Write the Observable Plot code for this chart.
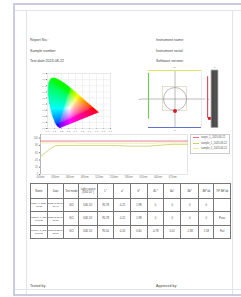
<!DOCTYPE html>
<html><head><meta charset="utf-8">
<script src="https://cdn.jsdelivr.net/npm/d3@7"></script>
<script src="https://cdn.jsdelivr.net/npm/@observablehq/plot@0.6"></script>
<style>
html,body{margin:0;padding:0;background:#fff;width:241px;height:297px;overflow:hidden;font-family:"Liberation Sans",Arial,sans-serif;}
#page{position:relative;width:241px;height:297px;}
.abs{position:absolute;}
.frameTop{left:14px;top:3px;width:227px;height:2px;background:#c9cde0;}
.frameLeft{left:13px;top:3px;width:2px;height:293px;background:#c9cde0;}
.frameBottom{left:13px;top:294px;width:228px;height:2px;background:#c9cde0;}
.lineInL{left:26px;top:10px;width:1px;height:284px;background:#e2e4ea;}
.lineInR{left:232px;top:10px;width:1px;height:284px;background:#e2e4ea;}
.lineInT{left:15px;top:10px;width:226px;height:1px;background:#e2e4ea;}
.lineInB{left:15px;top:289px;width:226px;height:1px;background:#e2e4ea;}
.info{font-size:3.6px;color:#444;white-space:nowrap;line-height:4px;}
table.t{position:absolute;left:30px;top:183px;width:200px;border-collapse:collapse;table-layout:fixed;font-size:2.7px;color:#444;}
table.t td{border:0.6px solid #777;text-align:center;padding:0;line-height:3px;overflow:hidden;word-break:break-all;}
table.t tr.h td{height:14px;}
table.t tr.d td{height:12.4px;}
table.t tr.d td.sm{font-size:2.3px;line-height:2.8px;}
.legend{left:190px;top:134px;width:38px;height:18px;border:0.6px solid #ccc;font-size:2.6px;color:#555;background:#fff;}
.legend div{display:flex;align-items:center;height:5.5px;padding-left:2px;white-space:nowrap;}
.legend span.sw{display:inline-block;width:6px;height:0.8px;margin-right:2px;}
svg{overflow:visible;}
</style>
</head><body><div id="page">
<div class="abs frameTop"></div><div class="abs frameLeft"></div><div class="abs frameBottom"></div>
<div class="abs lineInL"></div><div class="abs lineInR"></div><div class="abs lineInT"></div><div class="abs lineInB"></div>
</div>
<script>
// ---------- data ----------
const infoLeft = ["Report No.:", "Sample number:", "Test date:2023-08-22"];
const infoRight = ["Instrument name:", "Instrument serial:", "Software version:"];
const footer = ["Tested by:", "Approved by:"];

// CIE 1931 spectral locus (x, y)
const locusX = [0.1741,0.1714,0.1644,0.1440,0.1241,0.1096,0.0913,0.0687,0.0454,0.0235,0.0082,0.0039,0.0139,0.0389,0.0743,0.1142,0.1547,0.2296,0.3016,0.3731,0.4441,0.5125,0.5752,0.6270,0.6915,0.7190,0.7347];
const locusY = [0.0050,0.0051,0.0109,0.0297,0.0578,0.0868,0.1327,0.2007,0.2950,0.4127,0.5384,0.6548,0.7502,0.8120,0.8338,0.8262,0.8059,0.7543,0.6923,0.6245,0.5547,0.4866,0.4242,0.3725,0.3083,0.2809,0.2653];
const cieTicks = [0,0.1,0.2,0.3,0.4,0.5,0.6,0.7,0.8,0.9];

// target plot
const edgeNames = ["b+", "b-", "-a", "+a"];
const targetBox = [{x1:-0.45, x2:0.45, y1:-0.42, y2:0.42}];
const sampleA = [0];
const sampleB = [-0.42];
const lightBar = [{x1:1.38, x2:1.64, y1:-1.02, y2:1.0}];
const lRange = [0.78, -0.68];
const lMark = -0.68;

// spectral curves
const wavelengths = [400,410,420,430,440,450,460,470,480,490,500,510,520,530,540,550,560,570,580,590,600,610,620,630,640,650,660,670,680,690,700];
const target1 = [92,92,92,92,92,92,92,92,92,92,92,92,92,92,92,92,92,92,92,92,92,92,92,92,92,92,92,92,92,92,92];
const sample1 = [49,60,71,79,80,80,80,80,80,80,80,80,80,80,80,80,79,79,78,78,78,78,78,79,80,81,82,83,83,83,83];
const sample2 = [87,87,87,87,87,87,87,87,86,86,86,86,86,86,86,86,86,86,86,86,86,86,86,86,87,87,87,87,87,87,87];
const seriesNames = ["target_1_2023-08-22", "sample_1_2023-08-22", "sample_2_2023-08-22"];
const seriesColors = ["#e27383", "#cdd06a", "#efe9a8"];
const wlTicks = [400,430,460,490,520,550,580,610,640,670];
const yTicks = [0,20,40,60,80,100];

// table
const headers = ["Name","Date","Test mode","Light source(D65 10°)","L*","a*","b*","ΔL*","Δa*","Δb*","ΔE*ab","T/F ΔE*ab"];
const rowNames = ["target_1_2023-08-22","sample_1_2023-08-22","sample_2_2023-08-22"];
const rowDates = ["2023-08-22 11:20:48","2023-08-22 11:21:36","2023-08-22 11:22:15"];
const rowMode = ["SCI","SCI","SCI"];
const rowLight = ["D65 10°","D65 10°","D65 10°"];
const rowL = ["95.78","95.78","95.00"];
const rowA = ["-0.21","-0.21","-0.20"];
const rowB = ["1.98","1.98","0.60"];
const rowDL = ["0","0","-0.78"];
const rowDa = ["0","0","0.01"];
const rowDb = ["0","0","-1.38"];
const rowDE = ["0","0","1.58"];
const rowTF = ["","Pass","Fail"];

// ---------- layout ----------
const page = document.getElementById("page");
function place(el, left, top){ el.style.position="absolute"; el.style.left=left+"px"; el.style.top=top+"px"; page.appendChild(el); }
function txt(s, left, top, cls){ const d=document.createElement("div"); d.className=cls; d.textContent=s; place(d,left,top); }
infoLeft.forEach((s,i)=>txt(s,30,38+i*10.5,"info"));
infoRight.forEach((s,i)=>txt(s,156,38+i*10.5,"info"));
txt(footer[0],30,284,"info"); txt(footer[1],156,284,"info");

// ---------- CIE diagram ----------
const locus = locusX.map((x,i)=>[x, locusY[i]]);
function xyColor(x,y){
  if (!d3.polygonContains(locus,[x,y])) return null;
  const X=x/y, Y=1, Z=(1-x-y)/y;
  let r= 3.2406*X-1.5372*Y-0.4986*Z, g=-0.9689*X+1.8758*Y+0.0415*Z, b=0.0557*X-0.2040*Y+1.0570*Z;
  r=Math.max(r,0); g=Math.max(g,0); b=Math.max(b,0);
  const m=Math.max(r,g,b);
  const gam=v=>{v/=m; return Math.round(255*(v<=0.0031308?12.92*v:1.055*Math.pow(v,1/2.4)-0.055));};
  return `rgb(${gam(r)},${gam(g)},${gam(b)})`;
}
const cie = Plot.plot({
  width:72, height:64, marginLeft:7, marginRight:2, marginTop:3, marginBottom:6,
  style:{fontSize:"2.4px", fontFamily:"Liberation Sans", color:"#777", background:"transparent"},
  x:{domain:[0,0.9], ticks:cieTicks, tickSize:1, tickPadding:1, tickFormat:d3.format(".1f"), label:null},
  y:{domain:[0,0.9], ticks:cieTicks, tickSize:1, tickPadding:1, tickFormat:d3.format(".1f"), label:null},
  color:{type:"identity"},
  marks:[
    Plot.gridX(cieTicks,{stroke:"#ddd", strokeOpacity:1, strokeWidth:0.4}),
    Plot.gridY(cieTicks,{stroke:"#ddd", strokeOpacity:1, strokeWidth:0.4}),
    Plot.raster({x1:0,x2:0.9,y1:0,y2:0.9,width:160,height:160,fill:(x,y)=>xyColor(x,y)}),
    Plot.frame({stroke:"#ddd", strokeWidth:0.4})
  ]
});
place(cie,40,70);

// ---------- target plot ----------
const tgt = Plot.plot({
  width:90, height:68, marginLeft:10, marginRight:0, marginTop:6, marginBottom:5,
  style:{fontSize:"2.4px", fontFamily:"Liberation Sans", color:"#777", background:"transparent"},
  x:{domain:[-1,2.02], axis:null},
  y:{domain:[-1,1], axis:null},
  marks:[
    Plot.ruleY([0],{x1:-1.3, x2:1.15, stroke:"#777", strokeWidth:0.5}),
    Plot.ruleX([0],{y1:-1, y2:1, stroke:"#777", strokeWidth:0.5}),
    Plot.rect(targetBox,{x1:"x1",x2:"x2",y1:"y1",y2:"y2",fill:"none",stroke:"#d8c8b0",strokeWidth:0.6}),
    Plot.dot(sampleA,{x:d=>d,y:0,r:11.5,fill:"none",stroke:"#888",strokeWidth:0.6}),
    Plot.ruleY([1],{x1:-1,x2:1,stroke:"#e6e060",strokeWidth:1.2}),
    Plot.ruleY([-1],{x1:-1,x2:1,stroke:"#6272c8",strokeWidth:1.2}),
    Plot.ruleX([-1],{y1:-0.7,y2:0.9,stroke:"#7cc460",strokeWidth:1.2}),
    Plot.ruleX([1],{y1:-1,y2:1,stroke:"#cfcfcf",strokeWidth:0.4}),
    Plot.ruleX([1.23],{y1:lRange[1],y2:lRange[0],stroke:"#e05060",strokeWidth:1.2}),
    Plot.rect(lightBar,{x1:"x1",x2:"x2",y1:"y1",y2:"y2",fill:"#4a4a4a",stroke:"#aaa",strokeWidth:0.8}),
    Plot.ruleX([1.51],{y1:-1.0,y2:0.98,stroke:"#666",strokeWidth:0.6}),
    Plot.dot(sampleB,{x:0,y:d=>d,r:2,fill:"#d0202a"}),
    Plot.dot([lMark],{x:1.3,y:d=>d,r:1.6,symbol:"square",fill:"#d0202a"}),
    Plot.text([edgeNames[0]],{x:0,y:1,dy:-3,text:d=>d,fill:"#666"}),
    Plot.text([edgeNames[1]],{x:0,y:-1,dy:3,text:d=>d,fill:"#666"}),
    Plot.text([edgeNames[2]],{x:-1.3,y:0,dx:-1.5,text:d=>d,fill:"#666"}),
    Plot.text([edgeNames[3]],{x:1.15,y:0,dx:2,text:d=>d,fill:"#666"}),
    Plot.text(["L*"],{x:1.51,y:1,dy:-3,text:d=>d,fill:"#666"})
  ]
});
place(tgt,138,64);

// ---------- spectral line chart ----------
const rows = [];
[target1,sample1,sample2].forEach((vals,s)=>vals.forEach((v,i)=>rows.push({wl:wavelengths[i], v, s:seriesNames[s]})));
const line = Plot.plot({
  width:163, height:50, marginLeft:14, marginRight:2, marginTop:3, marginBottom:7,
  style:{fontSize:"2.6px", fontFamily:"Liberation Sans", color:"#777", background:"transparent"},
  x:{domain:[400,700], ticks:wlTicks, tickSize:0, tickPadding:2, tickFormat:d=>d+"nm", label:null},
  y:{domain:[0,110], ticks:yTicks, tickSize:1, tickPadding:1.5, label:null},
  color:{domain:seriesNames, range:seriesColors},
  marks:[
    Plot.frame({stroke:"#ccc", strokeWidth:0.5}),
    Plot.ruleX([400],{stroke:"#888", strokeWidth:0.5}),
    Plot.line(rows,{x:"wl", y:"v", z:"s", stroke:"s", strokeWidth:0.9})
  ]
});
place(line,26,131);

const leg = document.createElement("div"); leg.className="abs legend";
seriesNames.forEach((n,i)=>{ const r=document.createElement("div"); const sw=document.createElement("span"); sw.className="sw"; sw.style.background=seriesColors[i]; r.appendChild(sw); r.appendChild(document.createTextNode(n)); leg.appendChild(r);});
page.appendChild(leg); leg.style.left="190px"; leg.style.top="134px";

// ---------- table ----------
const colW = [16.7,16.7,15,18.4,16.6,16.7,16.7,16.6,16.7,18.3,15,16.6];
const tbl = document.createElement("table"); tbl.className="t";
const cg = document.createElement("colgroup"); colW.forEach(w=>{const c=document.createElement("col"); c.style.width=w+"px"; cg.appendChild(c);}); tbl.appendChild(cg);
const hr = document.createElement("tr"); hr.className="h";
headers.forEach(h=>{const td=document.createElement("td"); td.textContent=h; hr.appendChild(td);}); tbl.appendChild(hr);
const cols=[rowNames,rowDates,rowMode,rowLight,rowL,rowA,rowB,rowDL,rowDa,rowDb,rowDE,rowTF];
rowNames.forEach((_,r)=>{const tr=document.createElement("tr"); tr.className="d"; cols.forEach((c,ci)=>{const td=document.createElement("td"); if(ci<2) td.className="sm"; td.textContent=c[r]; tr.appendChild(td);}); tbl.appendChild(tr);});
page.appendChild(tbl);
</script>
</body></html>
